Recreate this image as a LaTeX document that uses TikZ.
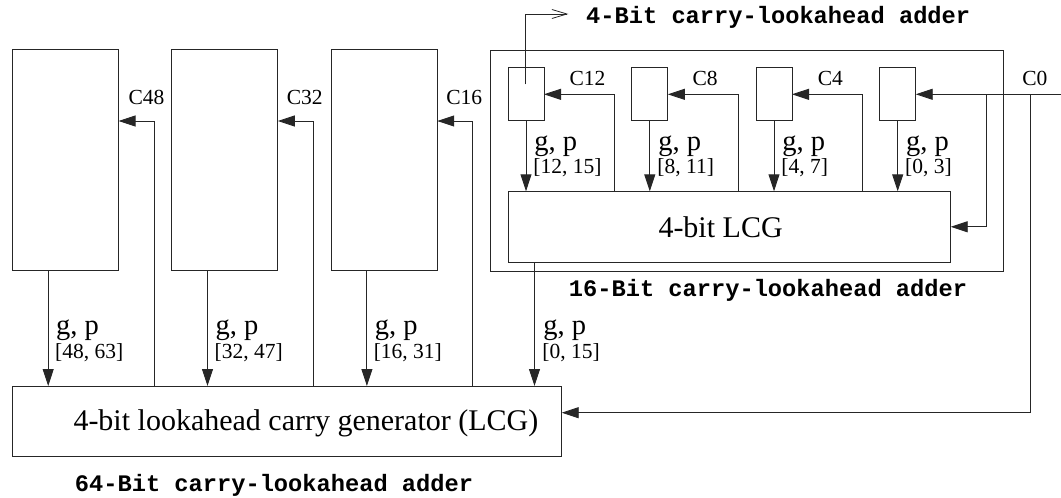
\documentclass[tikz,border=0pt]{standalone}
\usepackage{fontspec}
\setmainfont{Liberation Serif}
\setmonofont{Liberation Mono}
\usetikzlibrary{arrows.meta}
\begin{document}
\begin{tikzpicture}[x=1pt,y=-1pt,
  ln/.style={line width=0.9pt, draw=black!85},
  arr/.style={ln, -{Triangle[length=17pt,width=11pt]}},
  box/.style={ln, anchor=north west, inner sep=0pt, outer sep=0pt},
  big/.style={font=\fontsize{30}{36}\selectfont, anchor=base west, inner sep=0pt},
  gp/.style={font=\fontsize{28.5}{32}\selectfont, anchor=base west, inner sep=0pt},
  rng/.style={font=\fontsize{21.5}{24}\selectfont, anchor=base west, inner sep=0pt},
  clab/.style={font=\fontsize{21.5}{24}\selectfont, anchor=west, inner sep=0pt},
  ttl/.style={font=\fontsize{23.7}{26}\selectfont\ttfamily\bfseries, anchor=base west, inner sep=0pt}]
\useasboundingbox (0,0) rectangle (1061,498);

% 64-bit level blocks
\node (b1) [box, minimum width=106pt, minimum height=221pt] at (12.5,49.5) {};
\node (b2) [box, minimum width=106pt, minimum height=221pt] at (171.8,49.5) {};
\node (b3) [box, minimum width=106pt, minimum height=221pt] at (331.2,49.5) {};
\node (outer) [box, minimum width=513pt, minimum height=221pt] at (490.5,50) {};
\node (blcg) [box, minimum width=549.4pt, minimum height=70.7pt] at (12.3,386) {};
\node (bt) [big] at (73.3,430.5) {4-bit lookahead carry generator (LCG)};

% 16-bit level blocks
\node (s1) [box, minimum width=36pt, minimum height=52.5pt] at (508,67.7) {};
\node (s2) [box, minimum width=36pt, minimum height=52.5pt] at (631.8,67.7) {};
\node (s3) [box, minimum width=36pt, minimum height=52.5pt] at (756,67.7) {};
\node (s4) [box, minimum width=36pt, minimum height=52.5pt] at (879.7,67.7) {};
\node (slcg) [box, minimum width=442.4pt, minimum height=71pt] at (508.3,191.3) {};
\node (st) [big] at (658.3,237) {4-bit LCG};

% titles
\node (tit4) [ttl] at (586,23.5) {4-Bit carry-lookahead adder};
\node (tit16) [ttl] at (568.7,296.2) {16-Bit carry-lookahead adder};
\node (tit64) [ttl] at (74.7,491.7) {64-Bit carry-lookahead adder};

% g,p arrows (64-bit level)
\path ([xshift=-17.3pt]b1.south) coordinate (g1)
      ([xshift=-17.3pt]b2.south) coordinate (g2)
      ([xshift=-17.3pt]b3.south) coordinate (g3)
      ([xshift=26.2pt]slcg.south west) coordinate (g0);
\draw[arr] (g1) -- (g1 |- blcg.north);
\draw[arr] (g2) -- (g2 |- blcg.north);
\draw[arr] (g3) -- (g3 |- blcg.north);
\draw[arr] (g0) -- (g0 |- blcg.north);

\node (l1a) [gp] at (56,334.5) {g, p};
\node (l1b) [rng] at (55,358) {[48, 63]};
\node (l2a) [gp] at (215.4,334.5) {g, p};
\node (l2b) [rng] at (214.4,358) {[32, 47]};
\node (l3a) [gp] at (374.6,334.5) {g, p};
\node (l3b) [rng] at (373.6,358) {[16, 31]};
\node (l0a) [gp] at (543.2,334.5) {g, p};
\node (l0b) [rng] at (542.2,358) {[0, 15]};

% carries (64-bit level)
\coordinate (c48) at (154,121);
\coordinate (c32) at (313.3,121);
\coordinate (c16) at (472.7,121);
\draw[arr] (c48 |- blcg.north) -- (c48) -- (c48 -| b1.east);
\draw[arr] (c32 |- blcg.north) -- (c32) -- (c32 -| b2.east);
\draw[arr] (c16 |- blcg.north) -- (c16) -- (c16 -| b3.east);
\node (lc48) [clab] at (128.4,97) {C48};
\node (lc32) [clab] at (286.7,97) {C32};
\node (lc16) [clab] at (446.1,97) {C16};

% g,p arrows (16-bit level)
\draw[arr] (s1.south) -- (s1.south |- slcg.north);
\draw[arr] (s2.south) -- (s2.south |- slcg.north);
\draw[arr] (s3.south) -- (s3.south |- slcg.north);
\draw[arr] (s4.south) -- (s4.south |- slcg.north);
\node (m1a) [gp] at (534.2,150.7) {g, p};
\node (m1b) [rng] at (533.2,173.5) {[12, 15]};
\node (m2a) [gp] at (658.2,150.7) {g, p};
\node (m2b) [rng] at (657.2,173.5) {[8, 11]};
\node (m3a) [gp] at (782.2,150.7) {g, p};
\node (m3b) [rng] at (781.2,173.5) {[4, 7]};
\node (m4a) [gp] at (905.9,150.7) {g, p};
\node (m4b) [rng] at (904.9,173.5) {[0, 3]};

% carries (16-bit level)
\coordinate (c12) at (614.5,94.3);
\coordinate (c8) at (738.3,94.3);
\coordinate (c4) at (862.3,94.3);
\draw[arr] (c12 |- slcg.north) -- (c12) -- (c12 -| s1.east);
\draw[arr] (c8 |- slcg.north) -- (c8) -- (c8 -| s2.east);
\draw[arr] (c4 |- slcg.north) -- (c4) -- (c4 -| s3.east);
\node (lc12) [clab] at (569.4,78.8) {C12};
\node (lc8) [clab] at (692.4,78.8) {C8};
\node (lc4) [clab] at (817.7,78.8) {C4};

% C0 input
\coordinate (c0in) at (1062,94.3);
\coordinate (c0a) at (1030.7,94.3);
\coordinate (c0b) at (986.7,94.3);
\coordinate (c0low) at (1030.7,412.7);
\draw[arr] (c0in) -- (c0in -| s4.east);
\draw[arr] (c0b) -- (c0b |- slcg.east) -- (slcg.east);
\draw[arr] (c0a) -- (c0low) -- (c0low -| blcg.east);
\node (lc0) [clab] at (1022.1,78.8) {C0};

% pointer to 4-bit adder title
\coordinate (fb) at (525.7,84.3);
\coordinate (fbt) at (525.7,14);
\coordinate (fbe) at (568.3,14);
\draw[ln, -{Straight Barb[length=15pt,width=9pt,line width=0.8pt]}] (fb) -- (fbt) -- (fbe);
\end{tikzpicture}
\end{document}
